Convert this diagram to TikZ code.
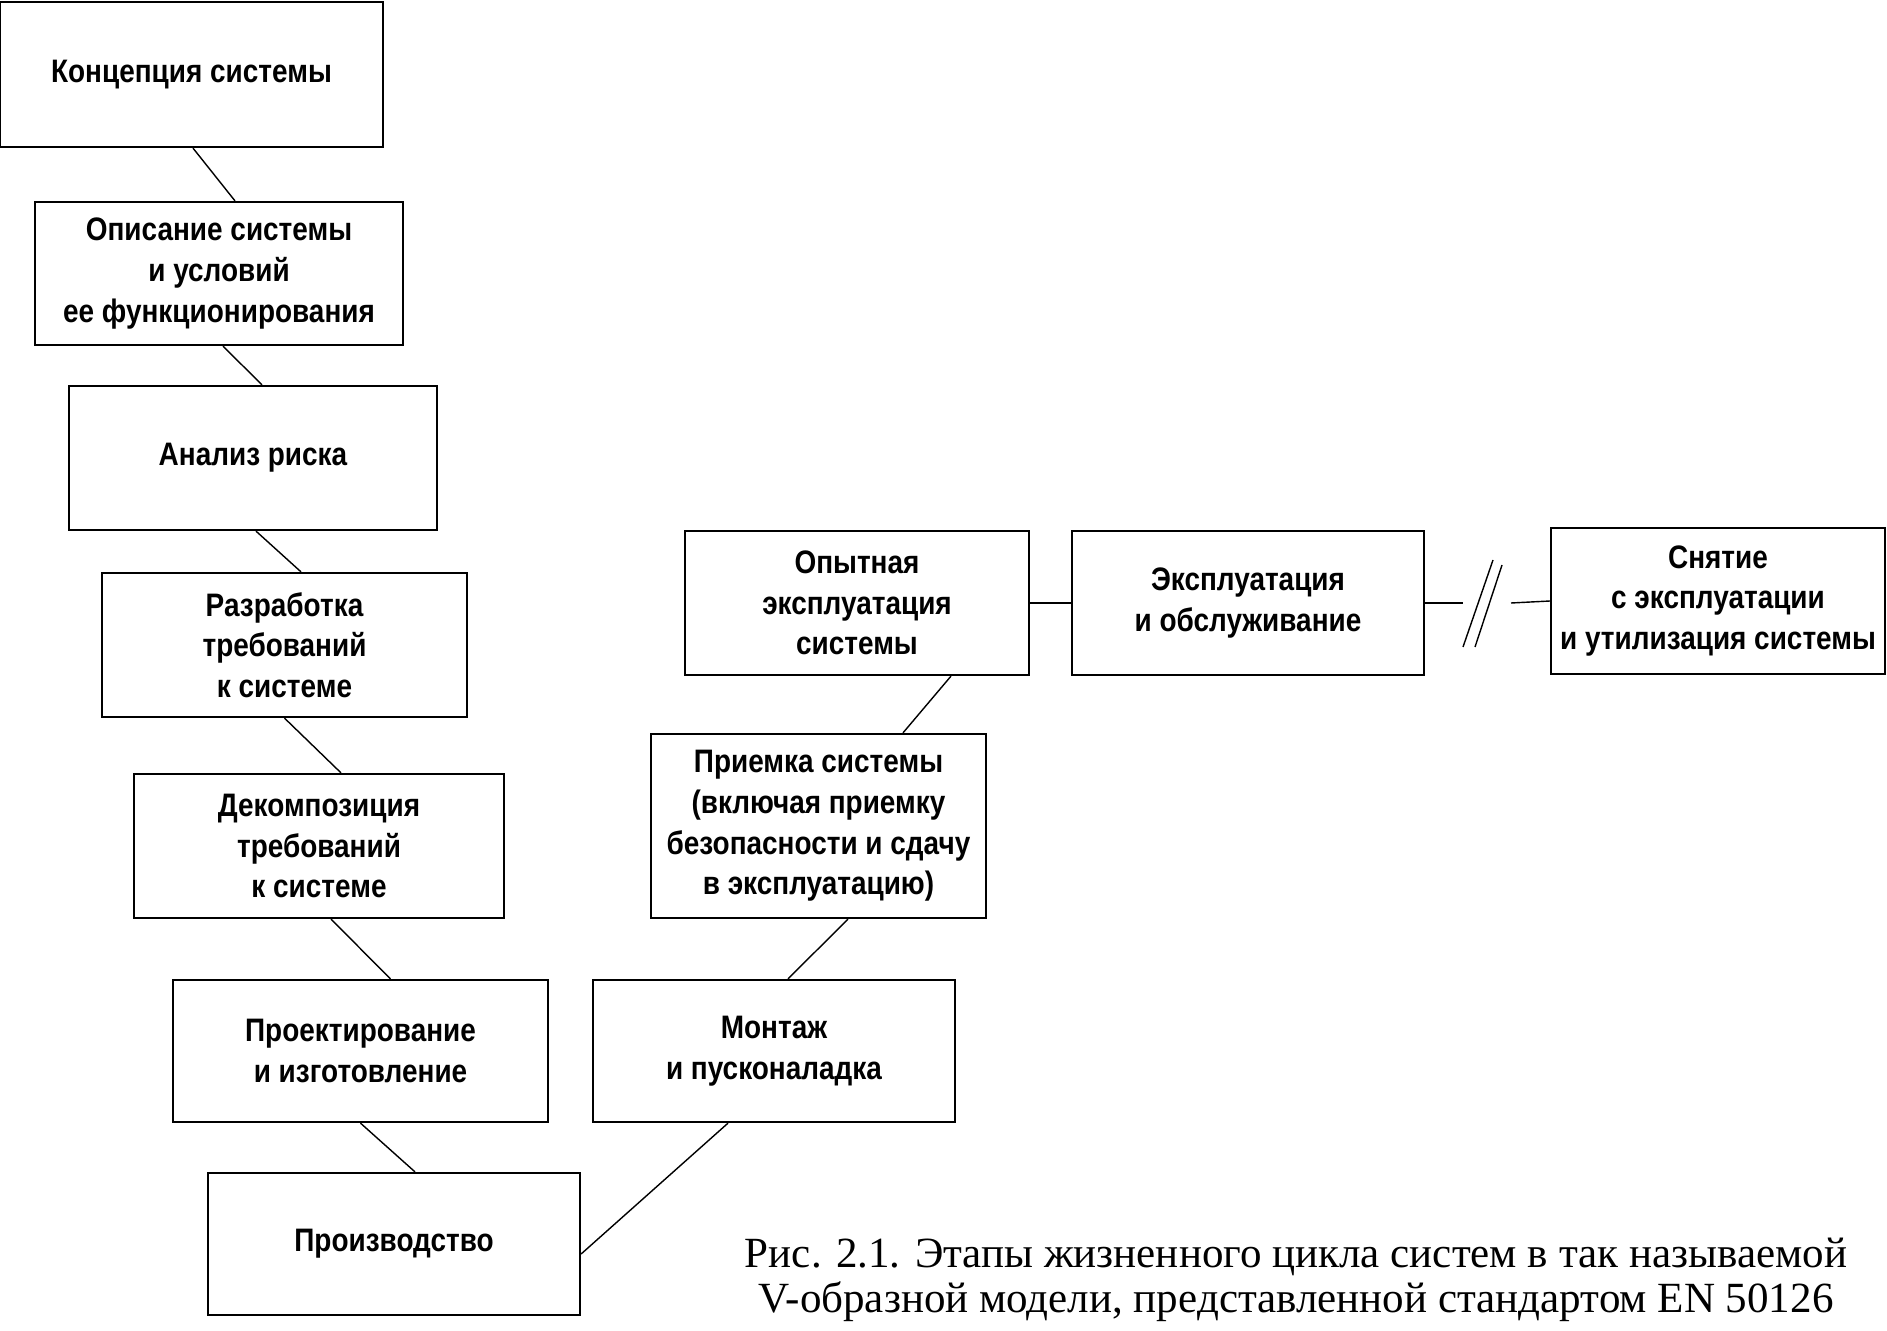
\documentclass[tikz,border=0pt]{standalone}
\usepackage{fontspec}
\newfontfamily\stagefont[FakeStretch=0.86]{Liberation Sans}
\newfontfamily\captionfont{Liberation Serif}

\tikzset{
    stage/.style={draw, line width=1.3pt, align=center, inner sep=0pt,
        font=\stagefont\bfseries\fontsize{18.5}{23.2}\selectfont},
    link/.style={line width=0.8pt}
}

\begin{document}
\begin{tikzpicture}[x=0.02cm,y=-0.02cm]
    \useasboundingbox (0,0) rectangle (1887,1331);

    % left branch of the V, top to bottom
    \node[stage,minimum width=7.66cm,minimum height=2.90cm] (concept) at (191.5,74.5) {Концепция системы};
    \node[stage,minimum width=7.36cm,minimum height=2.86cm] (descr) at (219,273.5) {Описание системы\\и условий\\ее функционирования};
    \node[stage,minimum width=7.36cm,minimum height=2.88cm] (risk) at (253,458) {Анализ риска};
    \node[stage,minimum width=7.30cm,minimum height=2.88cm] (reqs) at (284.5,645) {Разработка\\требований\\к системе};
    \node[stage,minimum width=7.40cm,minimum height=2.88cm] (decomp) at (319,846) {Декомпозиция\\требований\\к системе};
    \node[stage,minimum width=7.50cm,minimum height=2.84cm] (design) at (360.5,1051) {Проектирование\\и изготовление};
    \node[stage,minimum width=7.44cm,minimum height=2.84cm] (prod) at (394,1244) {Производство};

    % right branch of the V, bottom to top
    \node[stage,minimum width=7.24cm,minimum height=2.84cm] (install) at (774,1051) {Монтаж\\и пусконаладка};
    \node[stage,minimum width=6.70cm,minimum height=3.68cm] (accept) at (818.5,826) {Приемка системы\\(включая приемку\\безопасности и сдачу\\в эксплуатацию)};
    \node[stage,minimum width=6.88cm,minimum height=2.88cm] (trial) at (857,603) {Опытная\\эксплуатация\\системы};

    % operation and disposal
    \node[stage,minimum width=7.04cm,minimum height=2.88cm] (operation) at (1248,603) {Эксплуатация\\и обслуживание};
    \node[stage,minimum width=6.68cm,minimum height=2.92cm] (disposal) at (1718,601) {Снятие\\с эксплуатации\\и утилизация системы};

    % links down the left branch
    \draw[link] ([xshift=0.03cm]concept.south) -- ([xshift=0.32cm]descr.north);
    \draw[link] ([xshift=0.08cm]descr.south) -- ([xshift=0.18cm]risk.north);
    \draw[link] ([xshift=0.06cm]risk.south) -- ([xshift=0.33cm]reqs.north);
    \draw[link] (reqs.south) -- ([xshift=0.44cm]decomp.north);
    \draw[link] ([xshift=0.24cm]decomp.south) -- ([xshift=0.6cm]design.north);
    \draw[link] (design.south) -- ([xshift=0.42cm]prod.north);

    % links up the right branch
    \draw[link] ([yshift=-0.2cm]prod.east) -- ([xshift=-0.92cm]install.south);
    \draw[link] ([xshift=0.28cm]install.north) -- ([xshift=0.59cm]accept.south);
    \draw[link] ([xshift=1.69cm]accept.north) -- ([xshift=1.88cm]trial.south);
    \draw[link] (trial.east) -- (operation.west);

    % broken link with the // mark
    \coordinate (gapL) at (1463,603);
    \coordinate (gapR) at (1511,603);
    \draw[link] (operation.east) -- (gapL);
    \draw[link] (gapR) -- (disposal.west);
    \draw[link] (1463,647) -- (1493,560);
    \draw[link] (1475,647) -- (1502,565);

    % figure caption
    \node[font=\captionfont\fontsize{24.5}{25.5}\selectfont, align=center] (caption) at (1296,1280)
        {Рис. 2.1. Этапы жизненного цикла систем в так называемой\\V-образной модели, представленной стандартом EN 50126};
\end{tikzpicture}
\end{document}
